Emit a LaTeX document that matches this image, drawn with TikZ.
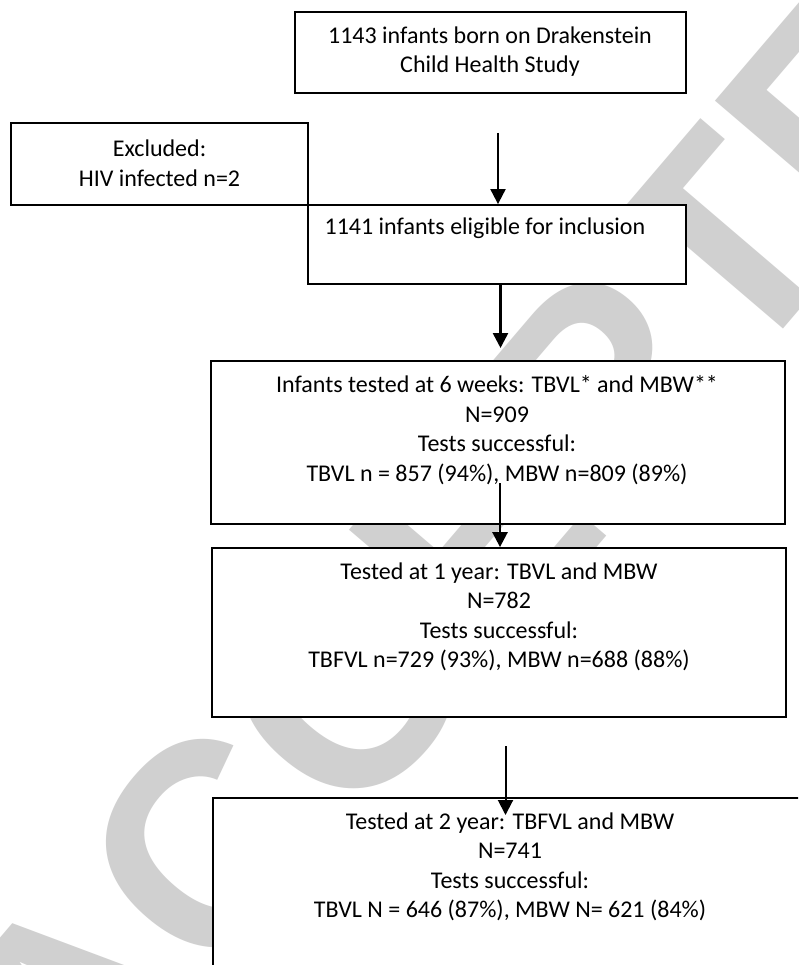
\documentclass[tikz,border=0pt]{standalone}
\usepackage{fontspec}
\setmainfont{Carlito}
\newfontfamily\wmfont{Liberation Sans}
\usepackage{xcolor}
\definecolor{wmgray}{RGB}{208,208,208}
\usepackage{tikz}
\usetikzlibrary{arrows.meta, positioning}

\begin{document}
\begin{tikzpicture}[x=1pt, y=-1pt,
  flowbox/.style={rectangle, draw=black, line width=1.8pt, fill=white, inner sep=0pt},
  boxtxt/.style={align=center, inner sep=0pt, font=\fontsize{24}{29.5}\selectfont},
  arr/.style={-{Triangle[length=15pt, width=15pt]}, line width=2pt, draw=black},
  wmark/.style={text=wmgray, inner sep=0pt, anchor=base west, rotate=49.5,
                font=\wmfont\bfseries\fontsize{290}{290}\selectfont}
]
\useasboundingbox (0,0) rectangle (798,965);
\fill[white] (0,0) rectangle (798,965);
\clip (0,0) rectangle (798,965);

% Watermark
\node[wmark] (wm) at (80,1152) {ACCEPTED};

% Cohort
\node[flowbox, minimum width=391pt, minimum height=81pt] (born) at (490.5,52.5) {};
\node[boxtxt] (bornTxt) at (490,51.5) {1143 infants born on Drakenstein\\Child Health Study};

% Excluded
\node[flowbox, minimum width=297pt, minimum height=82pt] (excl) at (159.5,164) {};
\node[boxtxt] (exclTxt) at (159.5,163.5) {Excluded:\\HIV infected n=2};

% Eligible
\node[flowbox, minimum width=378pt, minimum height=79pt] (elig) at (497,244.5) {};
\node[boxtxt] (eligTxt) at (485,228) {1141 infants eligible for inclusion};

% 6 weeks
\node[flowbox, minimum width=574pt, minimum height=163pt] (wk6) at (498,442.5) {};
\node[boxtxt] (wk6Txt) at (497,430) {Infants tested at 6 weeks: TBVL* and MBW**\\N=909\\Tests successful:\\TBVL n = 857 (94\%), MBW n=809 (89\%)};

% 1 year
\node[flowbox, minimum width=574pt, minimum height=169pt] (yr1) at (499,632.5) {};
\node[boxtxt] (yr1Txt) at (499,617) {Tested at 1 year: TBVL and MBW\\N=782\\Tests successful:\\TBFVL n=729 (93\%), MBW n=688 (88\%)};

% 2 years
\node[flowbox, minimum width=594pt, minimum height=212pt] (yr2) at (510,904) {};
\node[boxtxt] (yr2Txt) at (510,867) {Tested at 2 year: TBFVL and MBW\\N=741\\Tests successful:\\TBVL N = 646 (87\%), MBW N= 621 (84\%)};

% Arrows
\coordinate (a1s) at (498,133);
\coordinate (a2e) at (500.5,348);
\coordinate (a3s) at (500,483);
\coordinate (a4s) at (505.5,746);
\coordinate (a4e) at (505.5,815);
\draw[arr] (a1s) -- (a1s |- elig.north);
\draw[arr, line width=2.6pt] (a2e |- elig.south) -- (a2e);
\draw[arr, line width=2.6pt] (a3s) -- (a3s |- yr1.north);
\draw[arr] (a4s) -- (a4e);
\end{tikzpicture}
\end{document}
